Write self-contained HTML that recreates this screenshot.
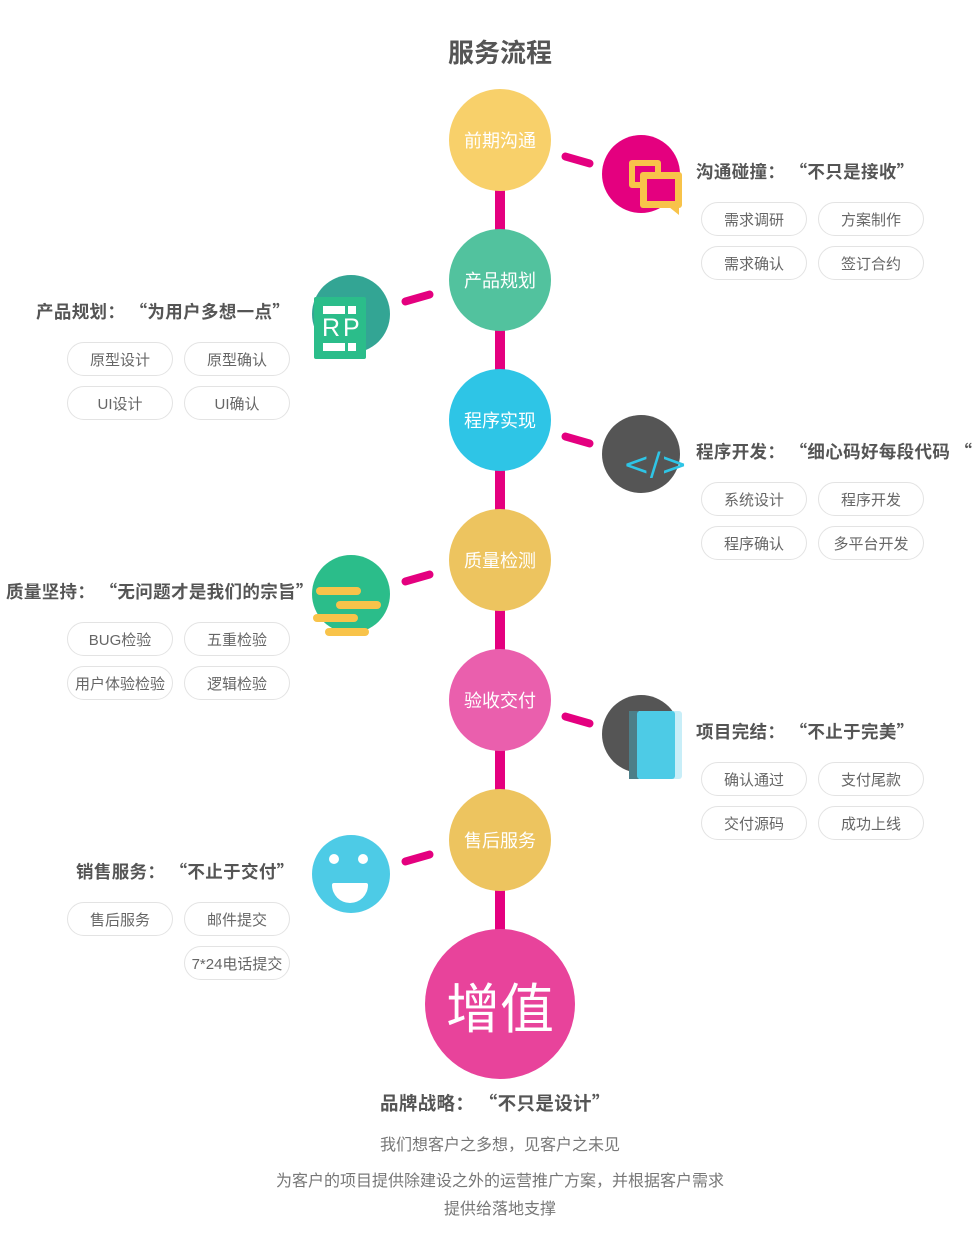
<!DOCTYPE html>
<html><head><meta charset="utf-8">
<style>
*{margin:0;padding:0;box-sizing:border-box}
body{width:974px;height:1258px;background:#fff;position:relative;overflow:hidden;font-family:"Liberation Sans","Noto Sans CJK SC",sans-serif}
.a{position:absolute}
.c{position:absolute;border-radius:50%;color:#fff;display:flex;align-items:center;justify-content:center;font-size:18px}
.main{width:102px;height:102px}
.bar{position:absolute;left:495px;width:10px;background:#e4007f}
.con{position:absolute;width:33px;height:8px;border-radius:4px;background:#e4007f}
.h{position:absolute;font-size:17.5px;letter-spacing:0.35px;line-height:20px;font-weight:bold;color:#555;white-space:nowrap;font-family:"Noto Sans CJK SC",sans-serif}
.t{position:absolute;width:106px;height:34px;border:1px solid #e3e3e3;border-radius:17px;font-size:15px;color:#666;display:flex;align-items:center;justify-content:center;white-space:nowrap}
.ic{position:absolute;width:78px;height:78px;border-radius:50%;overflow:visible}
.p{position:absolute;font-size:16px;line-height:20px;color:#777;width:974px;text-align:center;left:0}
</style></head><body>
<div class="a" style="left:0;width:1000px;text-align:center;top:33px;font-size:26px;font-weight:bold;color:#555">服务流程</div>

<div class="bar" style="top:180px;height:760px"></div>

<div class="c main" style="left:449px;top:89px;background:#f8d06a">前期沟通</div>
<div class="c main" style="left:449px;top:229px;background:#52c29e">产品规划</div>
<div class="c main" style="left:449px;top:369px;background:#2ec5e6">程序实现</div>
<div class="c main" style="left:449px;top:509px;background:#edc45f">质量检测</div>
<div class="c main" style="left:449px;top:649px;background:#ea5fad">验收交付</div>
<div class="c main" style="left:449px;top:789px;background:#edc45f">售后服务</div>
<div class="c" style="left:425px;top:929px;width:150px;height:150px;background:#e8439b;font-size:54px">增值</div>

<div class="con" style="left:561px;top:156px;transform:rotate(16deg)"></div>
<div class="con" style="left:401px;top:294px;transform:rotate(-16deg)"></div>
<div class="con" style="left:561px;top:436px;transform:rotate(16deg)"></div>
<div class="con" style="left:401px;top:574px;transform:rotate(-16deg)"></div>
<div class="con" style="left:561px;top:716px;transform:rotate(16deg)"></div>
<div class="con" style="left:401px;top:854px;transform:rotate(-16deg)"></div>

<div class="ic" style="left:602px;top:135px;background:#e4007f"></div>
<div class="a" style="left:629px;top:160px;width:32px;height:28px;border:6px solid #f8c34a;border-radius:3px"></div>
<div class="a" style="left:640px;top:172px;width:42px;height:36px;background:#f8c34a;border-radius:3px"></div>
<div class="a" style="left:647px;top:179px;width:28px;height:22px;background:#e4007f"></div>
<div class="a" style="left:669px;top:207px;width:0;height:0;border-left:10px solid transparent;border-top:8px solid #f8c34a"></div>

<div class="ic" style="left:312px;top:275px;background:#33a594"></div>
<div class="a" style="left:314px;top:297px;width:52px;height:62px;background:#2bbd8a;border-radius:2px"></div>
<div class="a" style="left:323px;top:306px;width:22px;height:8px;background:#fff"></div>
<div class="a" style="left:348px;top:306px;width:8px;height:8px;background:#fff"></div>
<div class="a" style="left:323px;top:343px;width:22px;height:8px;background:#fff"></div>
<div class="a" style="left:348px;top:343px;width:8px;height:8px;background:#fff"></div>
<div class="a" style="left:322px;top:313px;font-size:25px;color:#fff;letter-spacing:3px;line-height:30px">RP</div>

<div class="ic" style="left:602px;top:415px;background:#555"></div>
<div class="a" style="left:623px;top:446px;font-size:32px;color:#2ec5e6;line-height:36px;font-family:'DejaVu Sans',sans-serif">&lt;/&gt;</div>

<div class="ic" style="left:312px;top:555px;background:#2bbd8a"></div>
<div class="a" style="left:316px;top:587px;width:45px;height:8px;border-radius:4px;background:#f8c34a"></div>
<div class="a" style="left:336px;top:601px;width:45px;height:8px;border-radius:4px;background:#f8c34a"></div>
<div class="a" style="left:313px;top:614px;width:45px;height:8px;border-radius:4px;background:#f8c34a"></div>
<div class="a" style="left:325px;top:628px;width:44px;height:8px;border-radius:4px;background:#f8c34a"></div>

<div class="ic" style="left:602px;top:695px;background:#555"></div>
<div class="a" style="left:629px;top:711px;width:53px;height:68px;background:#c8eef8;border-radius:3px"></div>
<div class="a" style="left:629px;top:711px;width:10px;height:68px;background:#4d7e88"></div>
<div class="a" style="left:637px;top:711px;width:38px;height:68px;background:#4dcbe6;border-radius:3px"></div>

<div class="ic" style="left:312px;top:835px;background:#4dcbe6"></div>
<div class="a" style="left:329px;top:854px;width:10px;height:10px;border-radius:50%;background:#fff"></div>
<div class="a" style="left:358px;top:854px;width:10px;height:10px;border-radius:50%;background:#fff"></div>
<div class="a" style="left:332px;top:883px;width:36px;height:20px;background:#fff;border-radius:2px 2px 18px 18px"></div>

<div class="h" style="left:696px;top:162px">沟通碰撞：&nbsp;“不只是接收”</div>
<div class="t" style="left:701px;top:202px">需求调研</div><div class="t" style="left:818px;top:202px">方案制作</div>
<div class="t" style="left:701px;top:246px">需求确认</div><div class="t" style="left:818px;top:246px">签订合约</div>

<div class="h" style="left:696px;top:442px">程序开发：&nbsp;“细心码好每段代码&nbsp;“</div>
<div class="t" style="left:701px;top:482px">系统设计</div><div class="t" style="left:818px;top:482px">程序开发</div>
<div class="t" style="left:701px;top:526px">程序确认</div><div class="t" style="left:818px;top:526px">多平台开发</div>

<div class="h" style="left:696px;top:722px">项目完结：&nbsp;“不止于完美”</div>
<div class="t" style="left:701px;top:762px">确认通过</div><div class="t" style="left:818px;top:762px">支付尾款</div>
<div class="t" style="left:701px;top:806px">交付源码</div><div class="t" style="left:818px;top:806px">成功上线</div>

<div class="h" style="left:36px;top:302px">产品规划：&nbsp;“为用户多想一点”</div>
<div class="t" style="left:67px;top:342px">原型设计</div><div class="t" style="left:184px;top:342px">原型确认</div>
<div class="t" style="left:67px;top:386px">UI设计</div><div class="t" style="left:184px;top:386px">UI确认</div>

<div class="h" style="left:6px;top:582px">质量坚持：&nbsp;“无问题才是我们的宗旨”</div>
<div class="t" style="left:67px;top:622px">BUG检验</div><div class="t" style="left:184px;top:622px">五重检验</div>
<div class="t" style="left:67px;top:666px">用户体验检验</div><div class="t" style="left:184px;top:666px">逻辑检验</div>

<div class="h" style="left:76px;top:862px">销售服务：&nbsp;“不止于交付”</div>
<div class="t" style="left:67px;top:902px">售后服务</div><div class="t" style="left:184px;top:902px">邮件提交</div>
<div class="t" style="left:184px;top:946px">7*24电话提交</div>

<div class="h" style="left:380px;top:1092px;font-size:18.5px;line-height:22px">品牌战略：&nbsp;“不只是设计”</div>
<div class="p" style="left:13px;top:1136px">我们想客户之多想，见客户之未见</div>
<div class="p" style="left:13px;top:1172px">为客户的项目提供除建设之外的运营推广方案，并根据客户需求</div>
<div class="p" style="left:13px;top:1200px">提供给落地支撑</div>
</body></html>
